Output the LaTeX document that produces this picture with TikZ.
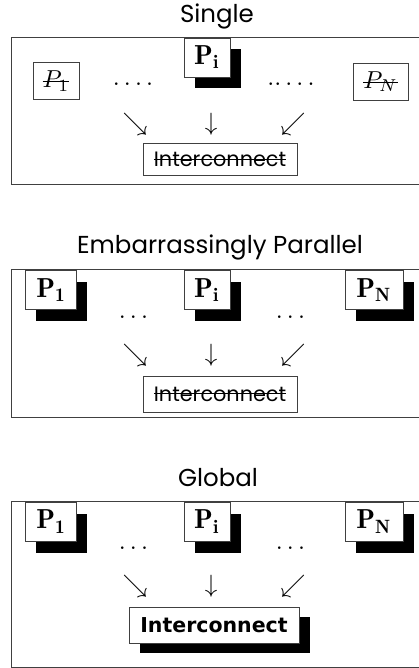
\documentclass[tikz,border=0pt]{standalone}
\usepackage{fontspec}
\usepackage{graphicx}
\usetikzlibrary{shadows}
\newfontfamily\titlefont{Poppins}
\newfontfamily\boldsans{DejaVu Sans}
\newcommand\strikeit[2]{\setbox0\hbox{#2}\rlap{\raisebox{#1}{\rule{\wd0}{0.9pt}}}\box0}
\newcommand\scm[2]{\scalebox{#1}{$#2$}}
\tikzset{
  outer/.style={draw=black!75, line width=0.9pt},
  ttl/.style={font=\titlefont\fontsize{24.5}{28}\selectfont, inner sep=0},
  pbox/.style={draw=black!75, fill=white, line width=0.8pt, inner sep=0, minimum height=39pt},
  ibox/.style={draw=black!75, fill=white, line width=0.8pt, inner sep=0, minimum height=37pt},
  shad/.style={drop shadow={shadow xshift=10.5pt, shadow yshift=-11.5pt, opacity=1, fill=black}},
  icbox/.style={draw=black!75, fill=white, line width=0.8pt, inner sep=0, minimum width=154pt, minimum height=32pt, font=\titlefont\fontsize{20.8}{24}\selectfont},
  arr/.style={inner sep=0},
  dots/.style={inner sep=0}
}
\begin{document}
\begin{tikzpicture}[x=1pt,y=-1pt]
\useasboundingbox (0,0) rectangle (419,668);
\clip (0,0) rectangle (419,668);
% ---------- Panel 1: Single
\node[ttl] (t1) at (217,16) {Single};
\draw[outer] (11.5,37.5) rectangle (430,184);
\node[ibox, minimum width=46pt] (a1) at (56,81) {\strikeit{5.5pt}{\scm{2.45}{P_1}}};
\node[pbox, shad, minimum width=46pt] (ai) at (207,57.5) {\scm{2.75}{\mathbf{P_i}}};
\node[ibox, minimum width=55pt] (aN) at (380.5,81.5) {\strikeit{5.5pt}{\scm{2.45}{P_N}}};
\node[dots] (ad1) at (133,84) {\scm{2.5}{.\,.\,.\,.}};
\node[dots] (ad2) at (291,84) {\scm{2.5}{..\,.\,.\,.}};
\node[arr] (aa1) at (135,124) {\scm{2.5}{\searrow}};
\node[arr] (aa2) at (211,124) {\scm{2.5}{\downarrow}};
\node[arr] (aa3) at (293,124) {\scm{2.5}{\swarrow}};
\node[icbox] (aic) at (220,159.5) {\strikeit{0.33em}{Interconnect}};
% ---------- Panel 2: Embarrassingly Parallel
\node[ttl] (t2) at (220,247) {Embarrassingly Parallel};
\draw[outer] (11.5,269) rectangle (430,417);
\node[pbox, shad, minimum width=51pt] (b1) at (51.2,290) {\scm{2.75}{\mathbf{P_1}}};
\node[pbox, shad, minimum width=46pt] (bi) at (207,290) {\scm{2.75}{\mathbf{P_i}}};
\node[pbox, shad, minimum width=58pt] (bN) at (374,290) {\scm{2.75}{\mathbf{P_N}}};
\node[dots] (bd1) at (133.5,317) {\scm{2.5}{\ldots}};
\node[dots] (bd2) at (290.5,317) {\scm{2.5}{\ldots}};
\node[arr] (ba1) at (135,355) {\scm{2.5}{\searrow}};
\node[arr] (ba2) at (211,355) {\scm{2.5}{\downarrow}};
\node[arr] (ba3) at (293,355) {\scm{2.5}{\swarrow}};
\node[icbox, minimum height=36pt] (bic) at (220,394) {\strikeit{0.33em}{Interconnect}};
% ---------- Panel 3: Global
\node[ttl] (t3) at (218,478) {Global};
\draw[outer] (11.5,501) rectangle (430,667);
\node[pbox, shad, minimum width=51pt] (c1) at (51.2,521.5) {\scm{2.75}{\mathbf{P_1}}};
\node[pbox, shad, minimum width=46pt] (ci) at (207,521.5) {\scm{2.75}{\mathbf{P_i}}};
\node[pbox, shad, minimum width=58pt] (cN) at (374,521.5) {\scm{2.75}{\mathbf{P_N}}};
\node[dots] (cd1) at (133.5,548) {\scm{2.5}{\ldots}};
\node[dots] (cd2) at (290.5,548) {\scm{2.5}{\ldots}};
\node[arr] (ca1) at (135,586.5) {\scm{2.5}{\searrow}};
\node[arr] (ca2) at (211,586.5) {\scm{2.5}{\downarrow}};
\node[arr] (ca3) at (293,586.5) {\scm{2.5}{\swarrow}};
\node[icbox, minimum width=170pt, minimum height=36pt, font=\boldsans\bfseries\fontsize{20.5}{24}\selectfont,
  drop shadow={shadow xshift=11pt, shadow yshift=-10pt, opacity=1, fill=black}] (cic) at (214,625) {Interconnect};
\end{tikzpicture}
\end{document}
